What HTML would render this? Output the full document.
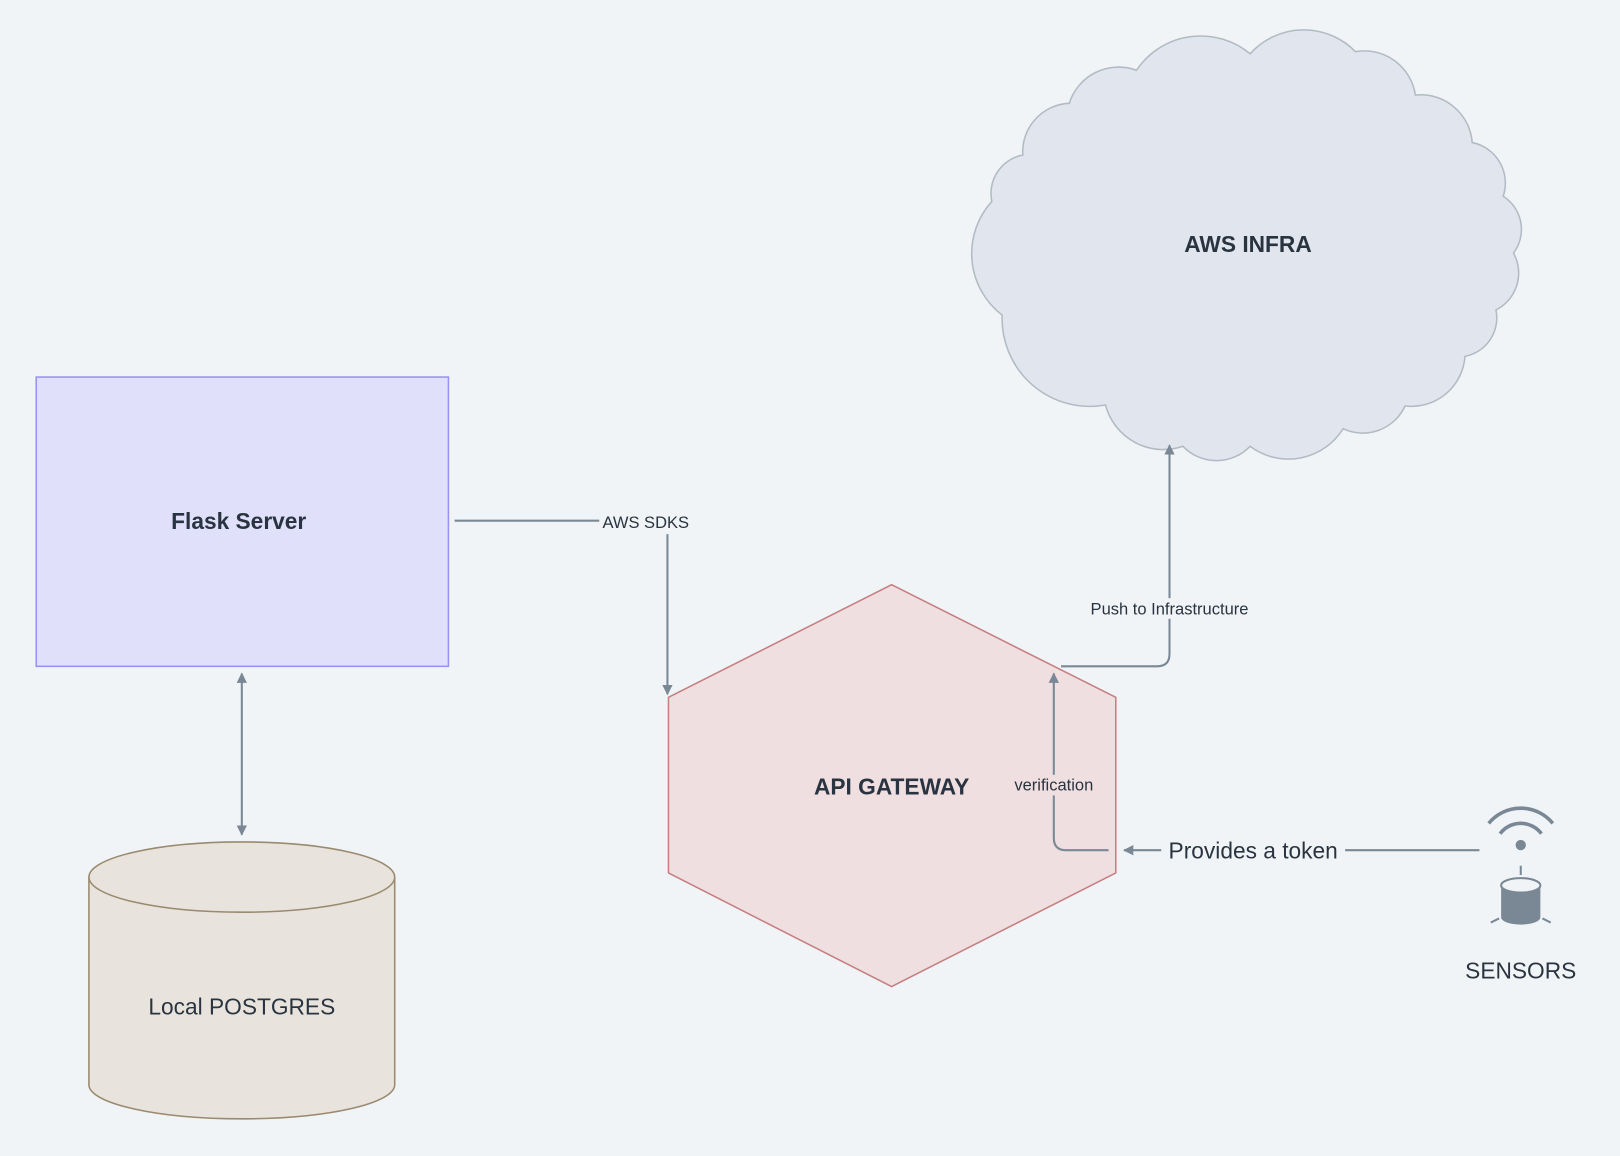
<!DOCTYPE html>
<html><head><meta charset="utf-8"><style>
html,body{margin:0;padding:0;background:#f0f4f7;}
svg{display:block;}
text{font-family:"Liberation Sans",sans-serif;fill:#2a3440;}
</style></head><body>
<svg width="1620" height="1156" viewBox="0 0 1568 1119" xmlns="http://www.w3.org/2000/svg">
<rect width="1568" height="1119" fill="#f0f4f7"/>
<defs>
<marker id="ah" viewBox="0 0 10 10" refX="9" refY="5" markerWidth="5" markerHeight="5" orient="auto-start-reverse">
<path d="M0,0 L10,5 L0,10 z" fill="#7a8896"/></marker>
</defs>
<!-- Cloud -->
<path d="M1035,100 A50,50 0 0 1 1100,68 A75,75 0 0 1 1210,52 A70,70 0 0 1 1312,50 A50,50 0 0 1 1370,92 A50,50 0 0 1 1425,138 A40,40 0 0 1 1455,190 A38,38 0 0 1 1465,245 A40,40 0 0 1 1448,300 A38,38 0 0 1 1418,345 A52,52 0 0 1 1360,393 A45,45 0 0 1 1300,415 A62,62 0 0 1 1210,432 A45,45 0 0 1 1145,432 A58,58 0 0 1 1070,392 A85,85 0 0 1 970,305 A75,75 0 0 1 960,195 A38,38 0 0 1 990,150 A47,47 0 0 1 1035,100 Z" fill="#e1e6ee" stroke="#b3bac3" stroke-width="1.5"/>
<text x="1208" y="244" font-size="22" font-weight="bold" text-anchor="middle">AWS INFRA</text>
<!-- Flask -->
<rect x="35" y="365" width="399" height="280" fill="#e0e0fb" stroke="#9a92f2" stroke-width="1.5"/>
<text x="231" y="512" font-size="22" font-weight="bold" text-anchor="middle">Flask Server</text>
<!-- Cylinder -->
<path d="M86,849 L86,1050 A148,33 0 0 0 382,1050 L382,849" fill="#e8e4dd" stroke="#9a8a6e" stroke-width="1.5"/>
<ellipse cx="234" cy="849" rx="148" ry="34" fill="#e8e4dd" stroke="#9a8a6e" stroke-width="1.5"/>
<text x="234" y="982" font-size="22" text-anchor="middle">Local POSTGRES</text>
<line x1="234" y1="652" x2="234" y2="808" stroke="#7a8896" stroke-width="2" marker-start="url(#ah)" marker-end="url(#ah)"/>
<!-- Hexagon -->
<polygon points="863,566 1080,675 1080,845 863,955 647,845 647,675" fill="#efdfe0" stroke="#c67f80" stroke-width="1.5" stroke-linejoin="round"/>
<text x="863" y="769" font-size="22" font-weight="bold" text-anchor="middle">API GATEWAY</text>
<!-- AWS SDKS -->
<path d="M440,504 L580,504" stroke="#7a8896" stroke-width="2" fill="none"/>
<text x="625" y="511" font-size="16" text-anchor="middle">AWS SDKS</text>
<path d="M646,517 L646,672" stroke="#7a8896" stroke-width="2" fill="none" marker-end="url(#ah)"/>
<!-- Push -->
<path d="M1027,645 L1120,645 Q1132,645 1132,633 L1132,431" stroke="#7a8896" stroke-width="2" fill="none" marker-end="url(#ah)"/>
<rect x="1050" y="579" width="164" height="20" fill="#f0f4f7"/>
<text x="1132" y="595" font-size="16" text-anchor="middle">Push to Infrastructure</text>
<!-- verification -->
<path d="M1073,823 L1032,823 Q1020,823 1020,811 L1020,652" stroke="#7a8896" stroke-width="2" fill="none" marker-end="url(#ah)"/>
<rect x="978" y="750" width="84" height="20" fill="#efdfe0"/>
<text x="1020" y="765" font-size="16" text-anchor="middle">verification</text>
<!-- Provides token -->
<path d="M1432,823 L1088,823" stroke="#7a8896" stroke-width="2" fill="none" marker-end="url(#ah)"/>
<rect x="1124" y="810" width="178" height="26" fill="#f0f4f7"/>
<text x="1213" y="831" font-size="22" text-anchor="middle">Provides a token</text>
<!-- Sensor icon -->
<g stroke="#7a8896" fill="none" stroke-width="3.5">
<path d="M1441,797 A40,40 0 0 1 1503,797"/>
<path d="M1452,807 A25,25 0 0 1 1492,807"/>
</g>
<circle cx="1472" cy="818" r="5" fill="#7a8896"/>
<line x1="1472" y1="838" x2="1472" y2="847" stroke="#7a8896" stroke-width="2"/>
<path d="M1453,857 L1453,888 A19,7 0 0 0 1491,888 L1491,857 Z" fill="#7a8896"/>
<ellipse cx="1472" cy="857" rx="19" ry="7" fill="#f0f4f7" stroke="#7a8896" stroke-width="2"/>
<line x1="1443" y1="893" x2="1451" y2="889" stroke="#7a8896" stroke-width="2"/>
<line x1="1493" y1="889" x2="1501" y2="893" stroke="#7a8896" stroke-width="2"/>
<text x="1472" y="947" font-size="22" text-anchor="middle">SENSORS</text>
</svg>
</body></html>
